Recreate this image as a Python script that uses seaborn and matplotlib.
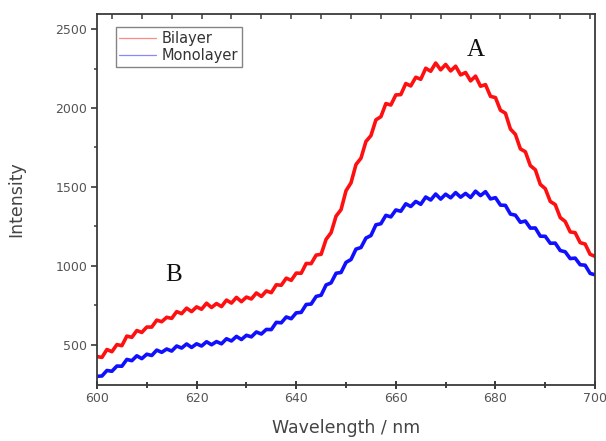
import matplotlib
matplotlib.use("Agg")
import matplotlib.pyplot as plt
import matplotlib.markers as mmarkers
import seaborn as sns

# Emission spectra, 1 nm steps
wavelength = list(range(600, 701))

bilayer = [
    425, 420, 470, 456, 501, 494, 555, 547, 590, 578,
    612, 612, 656, 646, 674, 667, 710, 697, 732, 710,
    740, 725, 763, 736, 761, 742, 783, 764, 800, 773,
    802, 790, 828, 806, 841, 830, 880, 877, 922, 908,
    954, 953, 1015, 1014, 1068, 1073, 1168, 1210, 1315, 1356,
    1476, 1526, 1642, 1682, 1788, 1825, 1925, 1945, 2028, 2019,
    2083, 2085, 2155, 2140, 2195, 2182, 2252, 2233, 2285, 2242,
    2276, 2235, 2265, 2210, 2225, 2172, 2202, 2138, 2148, 2074,
    2066, 1986, 1967, 1867, 1833, 1741, 1723, 1635, 1609, 1516,
    1489, 1408, 1388, 1306, 1281, 1215, 1210, 1147, 1138, 1073,
    1060,
]

monolayer = [
    300, 302, 337, 332, 365, 364, 407, 399, 430, 412,
    440, 432, 466, 452, 473, 460, 492, 479, 505, 483,
    506, 492, 519, 500, 520, 506, 538, 524, 553, 533,
    560, 550, 581, 568, 597, 596, 642, 639, 676, 665,
    702, 705, 755, 758, 806, 814, 879, 892, 953, 958,
    1022, 1040, 1106, 1116, 1176, 1192, 1260, 1267, 1320, 1310,
    1354, 1346, 1393, 1376, 1408, 1390, 1436, 1417, 1455, 1423,
    1454, 1431, 1464, 1435, 1459, 1433, 1473, 1445, 1470, 1424,
    1432, 1385, 1383, 1328, 1321, 1276, 1284, 1239, 1240, 1188,
    1187, 1143, 1144, 1097, 1089, 1046, 1049, 1007, 1004, 952,
    943,
]

series_names = ["Bilayer", "Monolayer"]
series_colors = ["#ff1010", "#1010ff"]

x_ticks = [600, 620, 640, 660, 680, 700]
x_minor = [610, 630, 650, 670, 690]
y_ticks = [500, 1000, 1500, 2000, 2500]
y_minor = [750, 1250, 1750, 2250]
top_ticks = list(range(603, 700, 6))

edge = "#3a3a3a"
sans = ["DejaVu Sans"]
sns.set_style("ticks")
plt.rcParams["font.family"] = sans

fig = plt.figure(figsize=(6.06, 4.41), dpi=100)
ax = fig.add_axes([0.160, 0.127, 0.822, 0.841])

for name, vals, col in zip(series_names, [bilayer, monolayer], series_colors):
    sns.lineplot(x=wavelength, y=vals, color=col, linewidth=2.6, ax=ax,
                 label=name)

ax.set_xlim(600, 700)
ax.set_ylim(245, 2595)
ax.set_xticks(x_ticks)
ax.set_xticks(x_minor, minor=True)
ax.set_yticks(y_ticks)
ax.set_yticks(y_minor, minor=True)

for sp in ax.spines.values():
    sp.set_visible(True)
    sp.set_color(edge)
    sp.set_linewidth(1.3)

ax.tick_params(axis="x", which="major", direction="inout", length=6, width=1.2,
               color=edge, labelsize=9, labelcolor="#555555", pad=2,
               bottom=True, top=False)
ax.tick_params(axis="x", which="minor", direction="inout", length=4, width=1.1,
               color=edge, bottom=True, top=False)
ax.tick_params(axis="y", which="major", direction="out", length=4, width=1.2,
               color=edge, labelsize=9, labelcolor="#555555", pad=3,
               left=True, right=False)
ax.tick_params(axis="y", which="minor", direction="out", length=2.5, width=1.1,
               color=edge, left=True, right=False)

# tick marks on the bottom and top edges, placed in axes-fraction height
xtrans = ax.get_xaxis_transform()
ax.plot(x_ticks, [0] * len(x_ticks), transform=xtrans, linestyle="none",
        marker="|", markersize=6, markeredgewidth=1.2, color=edge,
        clip_on=False, zorder=5)
ax.plot(x_minor, [0] * len(x_minor), transform=xtrans, linestyle="none",
        marker="|", markersize=4, markeredgewidth=1.1, color=edge,
        clip_on=False, zorder=5)
ax.plot(top_ticks, [1] * len(top_ticks), transform=xtrans, linestyle="none",
        marker=mmarkers.TICKDOWN, markersize=3.5, markeredgewidth=1.1,
        color=edge, clip_on=False, zorder=5)

ax.set_xlabel("Wavelength / nm", fontsize=12.5, color="#444444", labelpad=10)
ax.set_ylabel("Intensity", fontsize=12.5, color="#444444", labelpad=22)

leg = ax.legend(loc="upper left", bbox_to_anchor=(0.0375, 0.964),
                borderaxespad=0, frameon=True, fancybox=False,
                fontsize=10.5, handlelength=2.5, handletextpad=0.4,
                borderpad=0.25, labelspacing=0.15)
leg.get_frame().set_edgecolor("#666666")
leg.get_frame().set_linewidth(1.0)
for line in leg.get_lines():
    line.set_linewidth(0.9)
    line.set_alpha(0.5)
for t in leg.get_texts():
    t.set_color("#333333")

serif = ["Liberation Serif", "DejaVu Serif"]
ax.text(676, 2366, "A", fontsize=18, family=serif,
        ha="center", va="center", color="#111111")
ax.text(615.3, 939, "B", fontsize=18, family=serif,
        ha="center", va="center", color="#111111")

fig.savefig("out.png", dpi=100, facecolor="white")
